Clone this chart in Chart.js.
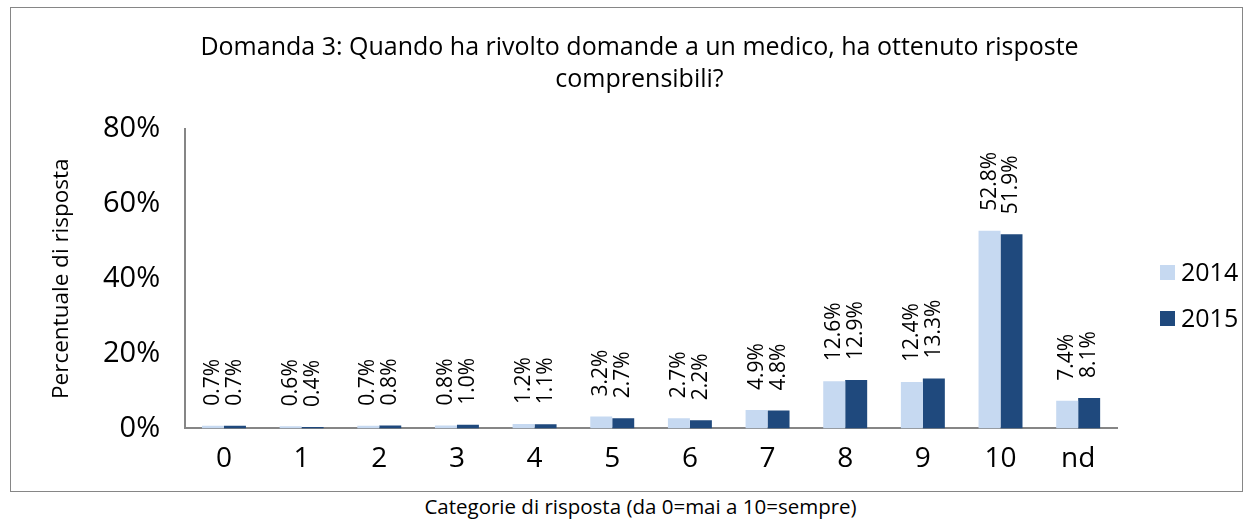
<!DOCTYPE html>
<html>
<head>
<meta charset="utf-8">
<script src="https://cdn.jsdelivr.net/npm/chart.js@4.4.0/dist/chart.umd.min.js"></script>
<style>
    body { margin: 0; background: #fff; font-family: "Open Sans", sans-serif; }
    #box { position: absolute; left: 10px; top: 7px; width: 1231px; height: 483px; border: 1px solid #868686; }
    #caption { position: absolute; left: 24px; width: 1233px; top: 492px; text-align: center; font-size: 20.5px; color: #000; }
    #legend { position: absolute; left: 1160px; top: 254px; font-size: 25px; color: #000; }
    #legend div { height: 46px; line-height: 34px; white-space: nowrap; }
    #legend span { display: inline-block; width: 15px; height: 15px; margin-right: 6px; vertical-align: 1px; }
</style>
</head>
<body>
<div id="box"><canvas id="chart" width="1231" height="483"></canvas></div>
<div id="legend"></div>
<div id="caption">Categorie di risposta (da 0=mai a 10=sempre)</div>
<script>
// Categories and values (percent)
const categories = ['0', '1', '2', '3', '4', '5', '6', '7', '8', '9', '10', 'nd'];
const values2014 = [0.7, 0.6, 0.7, 0.8, 1.2, 3.2, 2.7, 4.9, 12.6, 12.4, 52.8, 7.4];
const values2015 = [0.7, 0.4, 0.8, 1.0, 1.1, 2.7, 2.2, 4.8, 12.9, 13.3, 51.9, 8.1];
const yTicks = [0, 20, 40, 60, 80];

const FONT = '"Open Sans", sans-serif';

// Rotated value labels above each bar
const barLabels = {
    id: 'barLabels',
    afterDatasetsDraw(chart) {
        const ctx = chart.ctx;
        ctx.save();
        ctx.font = '21px ' + FONT;
        ctx.fillStyle = '#000';
        ctx.textAlign = 'left';
        ctx.textBaseline = 'middle';
        chart.data.datasets.forEach((ds, i) => {
            chart.getDatasetMeta(i).data.forEach((bar, j) => {
                ctx.save();
                ctx.translate(bar.x, bar.y - 20);
                ctx.rotate(-Math.PI / 2);
                ctx.fillText(ds.data[j].toFixed(1) + '%', 0, 0);
                ctx.restore();
            });
        });
        ctx.restore();
    }
};

const chart = new Chart(document.getElementById('chart'), {
    type: 'bar',
    data: {
        labels: categories,
        datasets: [
            { label: '2014', data: values2014, backgroundColor: '#C6D9F1' },
            { label: '2015', data: values2015, backgroundColor: '#1F497D' }
        ]
    },
    options: {
        responsive: false,
        animation: false,
        categoryPercentage: 0.566,
        barPercentage: 1,
        layout: { padding: { left: 26, right: 0, top: 0, bottom: 1 } },
        scales: {
            x: {
                grid: { display: false, drawTicks: false },
                border: { color: '#868686', width: 2 },
                ticks: { color: '#000', font: { size: 28, family: FONT }, padding: 14 }
            },
            y: {
                min: 0,
                max: 80,
                afterBuildTicks(axis) { axis.ticks = yTicks.map(v => ({ value: v })); },
                grid: { display: false, drawTicks: false },
                border: { color: '#868686', width: 2 },
                ticks: { color: '#000', font: { size: 29, family: FONT }, padding: 25,
                    callback: v => v + '%' },
                title: { display: true, text: 'Percentuale di risposta', color: '#000',
                    font: { size: 22.5, family: FONT }, padding: { top: 11, bottom: 3 } }
            },
            // empty right axis keeps room for the legend
            side: {
                position: 'right',
                display: true,
                grid: { display: false, drawTicks: false },
                border: { display: false },
                ticks: { display: false },
                afterFit(axis) { axis.width = 125; }
            }
        },
        plugins: {
            title: {
                display: true,
                text: ['Domanda 3: Quando ha rivolto domande a un medico, ha ottenuto risposte', 'comprensibili?'],
                color: '#000',
                font: { size: 25, weight: 'normal', family: FONT, lineHeight: 1.28 },
                padding: { top: 24, bottom: 33 }
            },
            legend: { display: false },
            tooltip: { enabled: false }
        }
    },
    plugins: [barLabels]
});

// Legend built from the datasets
const legend = document.getElementById('legend');
chart.data.datasets.forEach(ds => {
    const row = document.createElement('div');
    row.innerHTML = `<span style="background:${ds.backgroundColor}"></span>${ds.label}`;
    legend.appendChild(row);
});
</script>
</body>
</html>
